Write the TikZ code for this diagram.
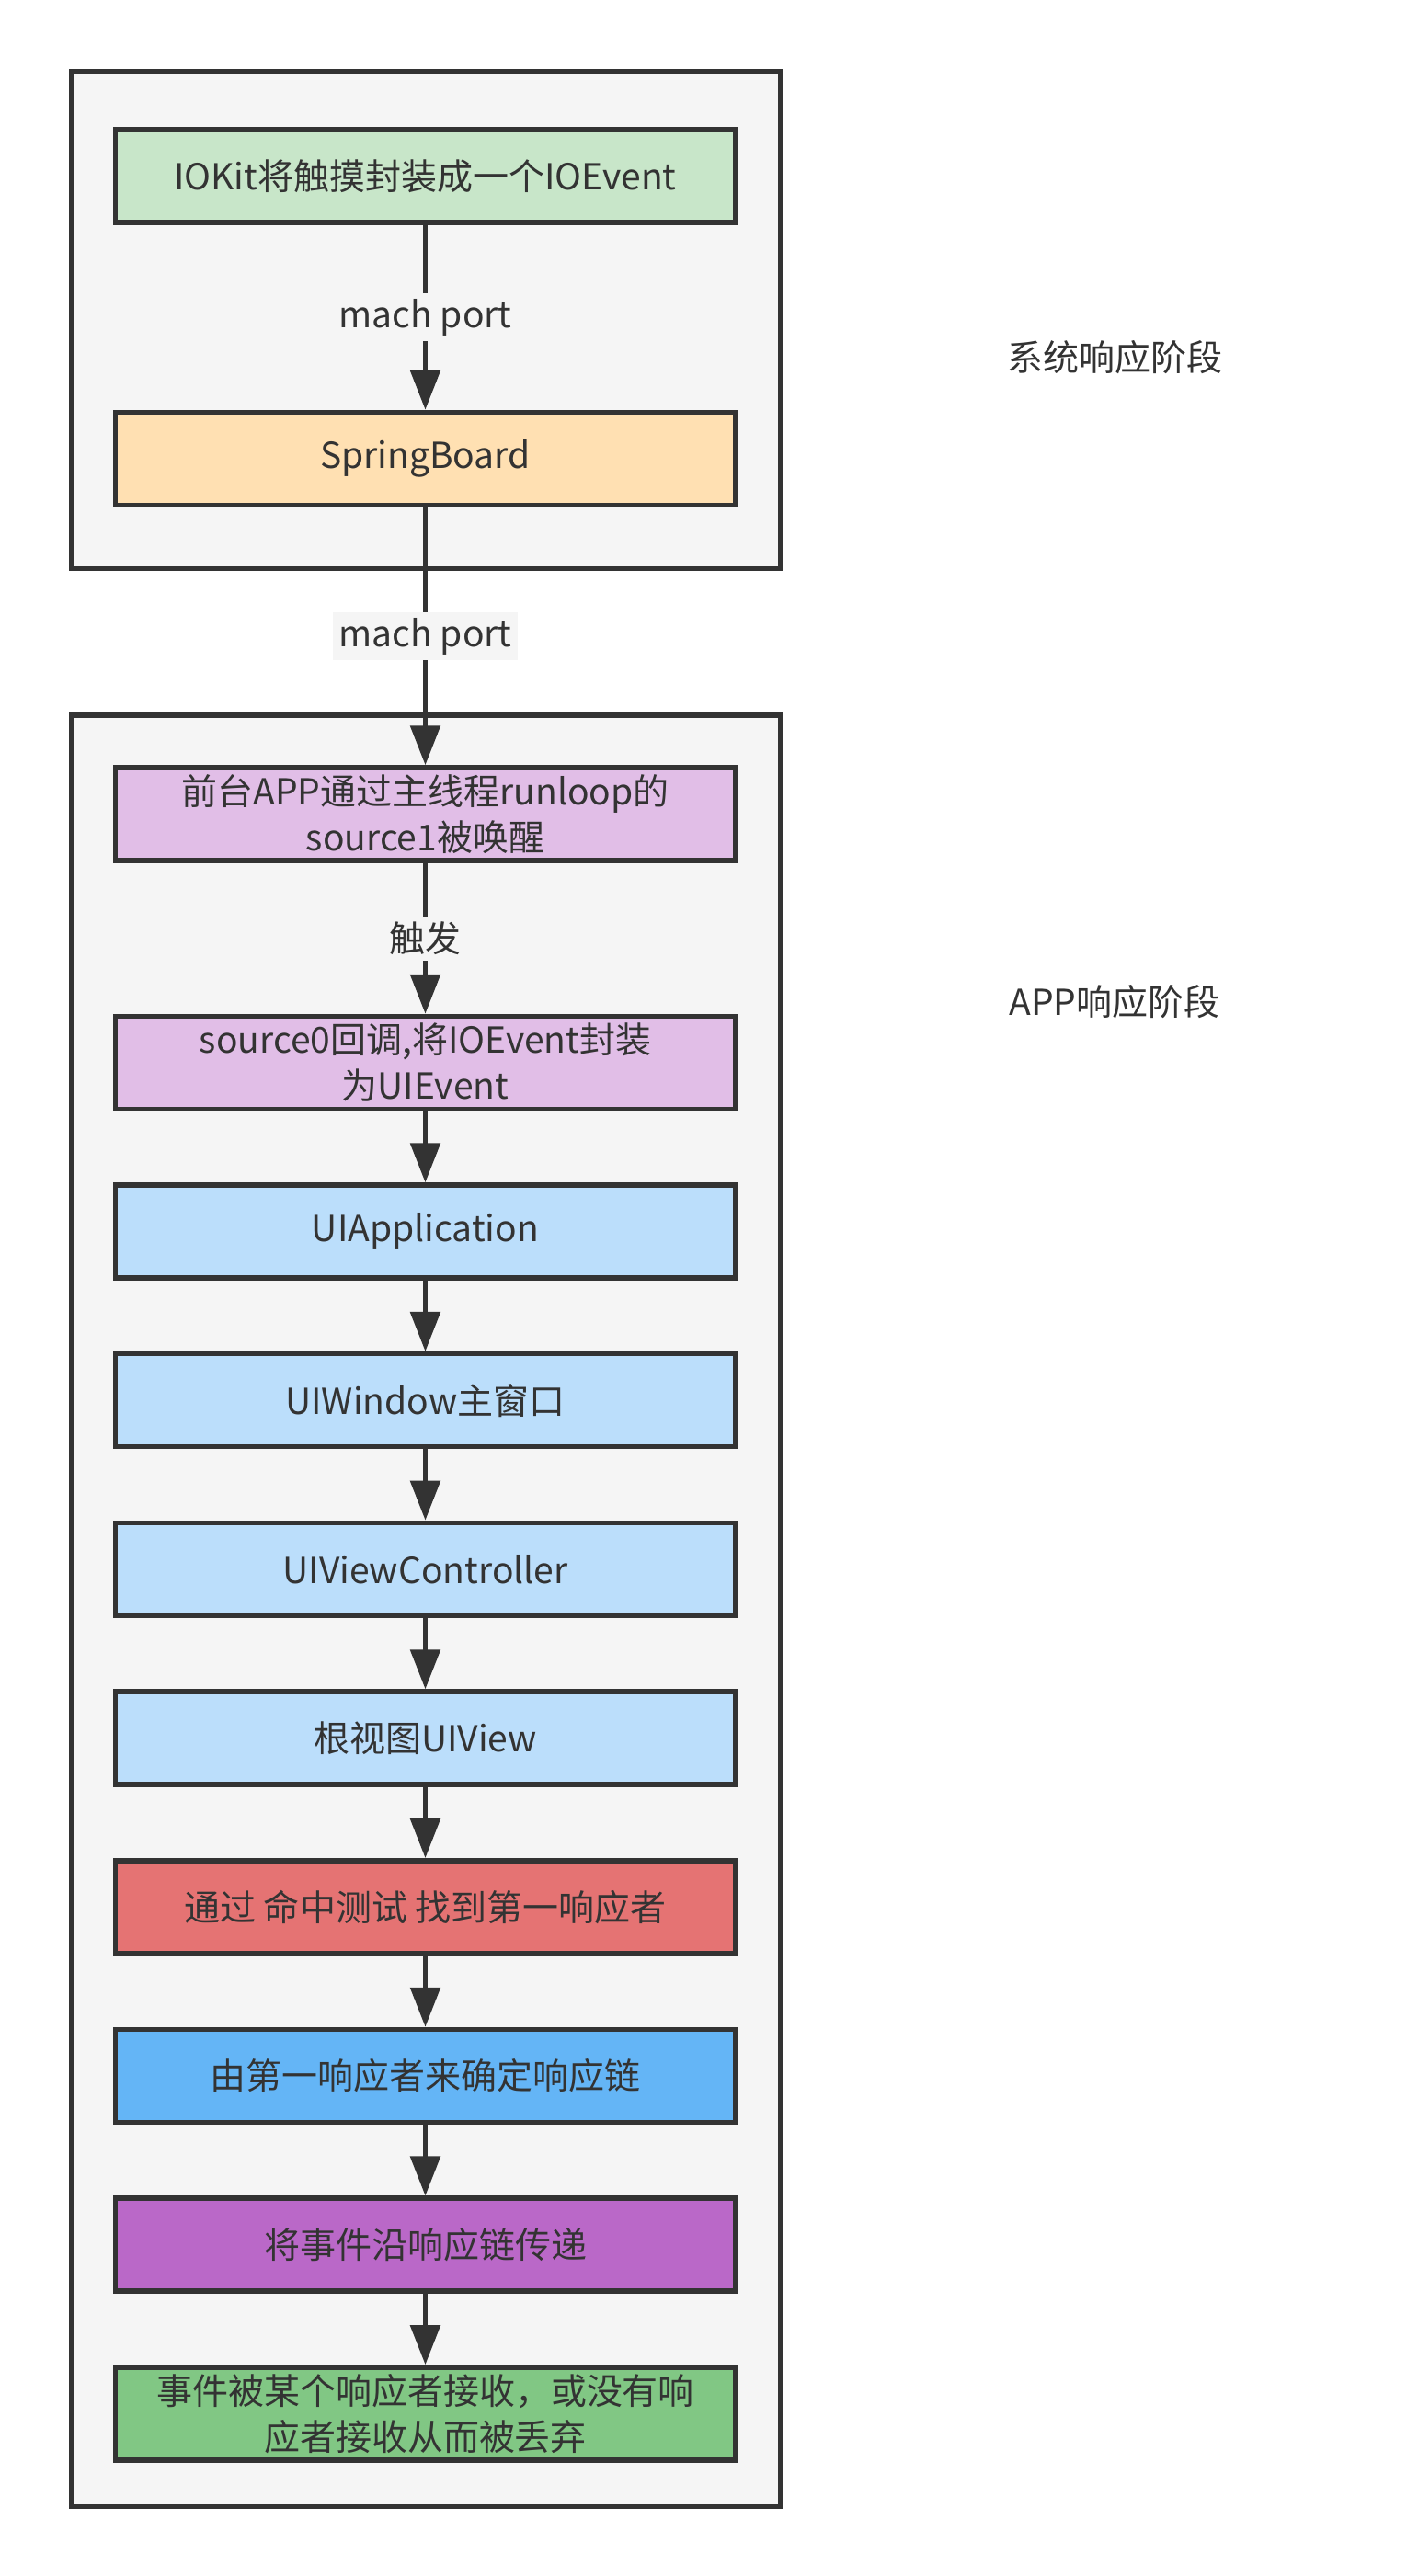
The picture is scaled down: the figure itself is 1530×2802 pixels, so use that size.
\documentclass[tikz,border=0pt]{standalone}
\usepackage{fontspec}
\setmainfont{Noto Sans CJK SC}
\usepackage{tikz}
\usetikzlibrary{arrows.meta}
\usetikzlibrary{positioning}

\definecolor{ink}{HTML}{333333}
\definecolor{groupbg}{HTML}{F5F5F5}
\definecolor{iokitc}{HTML}{C8E6C9}
\definecolor{springc}{HTML}{FFE0B2}
\definecolor{runloopc}{HTML}{E1BEE7}
\definecolor{uikitc}{HTML}{BBDEFB}
\definecolor{hitc}{HTML}{E57373}
\definecolor{chainc}{HTML}{64B5F6}
\definecolor{passc}{HTML}{BA68C8}
\definecolor{donec}{HTML}{81C784}

\begin{document}
\begin{tikzpicture}[x=0.5pt, y=-0.5pt,
    box/.style={draw=ink, line width=2.75pt, minimum width=337pt, minimum height=50.5pt,
      inner sep=0pt, align=center, text=ink, font=\fontsize{19.5pt}{25pt}\selectfont},
    group/.style={draw=ink, line width=2.75pt, fill=groupbg},
    flow/.style={draw=ink, line width=2.75pt, -{Triangle[length=21.5pt,width=16pt]}},
    lbl/.style={fill=groupbg, text=ink, inner sep=3pt, font=\fontsize{19.5pt}{25pt}\selectfont}]
        \useasboundingbox (0,0) rectangle (1530,2802);
        \draw[group] (77.75,77.75) rectangle (848.25,618.25);
        \draw[group] (77.75,777.75) rectangle (848.25,2726.25);

        \node[box, fill=iokitc] (iokit) at (462.5,191.5) {IOKit将触摸封装成一个IOEvent};
        \node[box, fill=springc, below=100.5pt of iokit] (spring) {SpringBoard};
        \node[box, fill=runloopc, below=140pt of spring] (wake) {前台APP通过主线程runloop的\\source1被唤醒};
        \node[box, fill=runloopc, below=82pt of wake] (src0) {source0回调,将IOEvent封装\\为UIEvent};
        \node[box, fill=uikitc, below=38.5pt of src0] (app) {UIApplication};
        \node[box, fill=uikitc, below=38.6pt of app] (win) {UIWindow主窗口};
        \node[box, fill=uikitc, below=38.6pt of win] (vc) {UIViewController};
        \node[box, fill=uikitc, below=38.6pt of vc] (root) {根视图UIView};
        \node[box, fill=hitc, below=38.6pt of root] (hit) {通过 命中测试 找到第一响应者};
        \node[box, fill=chainc, below=38.6pt of hit] (chain) {由第一响应者来确定响应链};
        \node[box, fill=passc, below=38.6pt of chain] (pass) {将事件沿响应链传递};
        \node[box, fill=donec, below=38.6pt of pass] (done) {事件被某个响应者接收，或没有响\\应者接收从而被丢弃};

        \node[lbl, fill=none] (sys) at (1212,389) {系统响应阶段};
        \node[lbl, fill=none] (appstage) at (1212,1090) {APP响应阶段};

        \draw[flow] (iokit) -- node[lbl] {mach port} (spring);
        \draw[flow] (spring) -- node[lbl] {mach port} (wake);
        \draw[flow] (wake) -- node[lbl] {触发} (src0);
        \foreach \a/\b in {src0/app, app/win, win/vc, vc/root, root/hit, hit/chain, chain/pass, pass/done}
            \draw[flow] (\a) -- (\b);
    \end{tikzpicture}
\end{document}
